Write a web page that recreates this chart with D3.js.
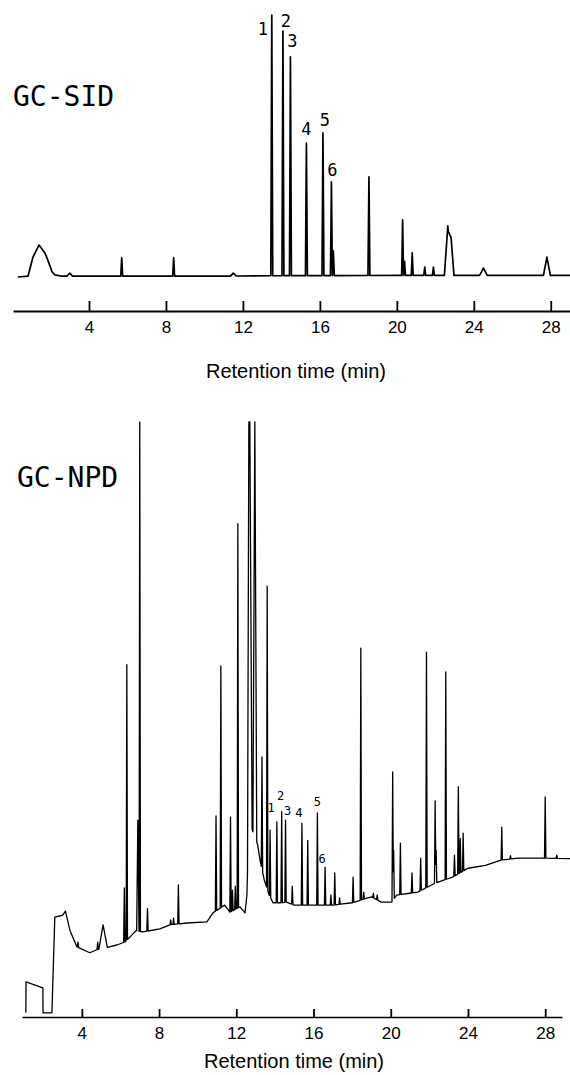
<!DOCTYPE html>
<html><head><meta charset="utf-8">
<script src="https://cdn.jsdelivr.net/npm/d3@7"></script>
<style>body{margin:0;background:#fff} svg{display:block}</style>
</head><body>
<script>
// ---------- data ----------
const tickValues = [4, 8, 12, 16, 20, 24, 28];
const axisTitle = "Retention time (min)";

const sidTitle = "GC-SID";
// baseline knots [time (min), signal]
const sidBaseline = [[0.3,0],[0.83,0.3],[1.09,7.6],[1.4,12.2],[1.71,9.2],[1.92,5.3],[2.08,1.9],[2.23,0.8],[2.6,0.3],[10,0.3],[14,0.5],[20,0.6],[29,0.6]];
// peaks [time, apex signal, half width (min, optional)]
const sidPeaks = [[3.0,1.5,0.15],[5.7,7.3],[8.4,7.3],[11.5,1.5,0.15],[13.5,100],[14.08,93.9],[14.47,84],[15.3,51.1],[16.16,55],[16.6,36.3],[16.7,10],[18.55,38.2],[20.3,21.8],[20.4,6],[20.8,9.2],[21.45,3.8],[21.9,3.8],[22.65,19.5,0.18],[22.82,15,0.15],[24.5,3.4,0.2],[27.8,7.6,0.18]];
const sidLabels = ["1","2","3","4","5","6"];
const sidLabelTimes = [13.5,14.08,14.47,15.3,16.16,16.6];

const npdTitle = "GC-NPD";
const npdBaseline = [[1.10,0.7],[1.11,5.9],[1.98,4.9],[1.99,0.7],[2.45,0.7],[2.6,16.8],[3.0,17.1],[3.15,17.8],[3.38,14.6],[3.74,11.8],[4.41,10.8],[4.78,11.3],[5.81,12.1],[6.23,12.6],[6.6,13.8],[6.8,14.5],[7.16,14.3],[8.04,14.8],[8.56,15.5],[9.44,15.8],[10.48,16.0],[10.79,17.5],[11.4,18.8],[11.67,17.6],[12.19,18.5],[12.45,17.5],[12.55,20.5],[12.65,33],[13.1,29],[13.25,26],[13.45,23],[13.7,20.5],[13.9,19.2],[14.3,19.2],[14.6,19.3],[15.0,18.8],[17.0,18.8],[18.0,19.2],[19.0,20.2],[19.5,19.3],[20.05,19.3],[20.3,20.5],[21.0,20.8],[21.4,21],[22.3,22.5],[23.2,23.5],[24.0,25],[24.9,25.5],[25.75,26.4],[26.6,26.7],[28,26.7],[29.3,26.6]];
const npdPeaks = [[3.8,12.6],[4.82,12.6],[5.1,15.5,0.22],[6.2,21.7],[6.33,59.2],[6.9,33.1,0.06],[7.0,101],[7.4,18.2],[8.6,16.3],[8.75,16.6],[9.0,22.2],[10.95,33.8],[11.2,59],[11.7,33.6],[11.8,21.3],[11.95,22],[12.08,82.9],[12.7,400,0.12],[12.96,400,0.1],[13.33,43.7],[13.6,72.4],[13.75,31.4],[14.1,32.8],[14.35,34.5],[14.55,33.1],[14.9,22],[15.4,32.6],[15.7,29.7],[16.2,34.3],[16.6,25.2],[16.9,20.5],[17.1,24.2],[17.35,20],[18.05,23.5],[18.45,62],[18.6,21],[19.1,20.8],[19.3,20.5],[20.1,41.2],[20.15,28],[20.5,29.2],[21.1,24.2],[21.55,26.7],[21.85,61.3],[22.3,36.3],[22.35,28],[22.85,58],[23.3,27.2],[23.5,38.7],[23.6,30],[23.75,30.9],[25.75,31.9],[26.2,27.1],[28.0,37],[28.6,27.2]];
const npdLabels = ["1","2","3","4","5","6"];
const npdLabelTimes = [13.75,14.35,14.55,15.4,16.2,16.6];

// ---------- helpers ----------
function buildTrace(baseline, peaks, defW){
  const bt = baseline.map(d=>d[0]);
  const base = t => {
    const i = d3.bisectRight(bt, t);
    if (i <= 0) return baseline[0][1];
    if (i >= baseline.length) return baseline[baseline.length-1][1];
    const [t0,v0] = baseline[i-1], [t1,v1] = baseline[i];
    return t1 === t0 ? v1 : v0 + (v1-v0)*(t-t0)/(t1-t0);
  };
  const P = peaks.map(([t,top,w]) => ({t, top, w: w || defW}));
  const signal = t => {
    const b = base(t); let v = b;
    for (const p of P){
      const d = Math.abs(t - p.t);
      if (d < p.w){ const tv = b + (p.top - base(p.t))*(1 - d/p.w); if (tv > v) v = tv; }
    }
    return v;
  };
  let ts = bt.slice();
  P.forEach(p => ts.push(p.t - p.w, p.t, p.t + p.w));
  ts = ts.filter(t => t >= bt[0] && t <= bt[bt.length-1]).sort((a,b)=>a-b);
  return {pts: ts.map(t => [t, signal(t)]), signal};
}

const W = 570, H = 1075;
const svg = d3.select("body").append("svg").attr("width", W).attr("height", H);

function drawPanel(cfg){
  const x = d3.scaleLinear().domain(cfg.xDomain).range(cfg.xRange);
  const y = d3.scaleLinear().domain([0,100]).range(cfg.yRange).clamp(true);
  const tr = buildTrace(cfg.baseline, cfg.peaks, cfg.defW);
  const g = svg.append("g");
  g.append("path").datum(tr.pts)
    .attr("fill","none").attr("stroke","#000").attr("stroke-width",cfg.lineW)
    .attr("stroke-linejoin","round")
    .attr("d", d3.line().x(d=>x(d[0])).y(d=>y(d[1])));
  const ax = g.append("g").attr("transform",`translate(0,${cfg.axisY})`)
    .call(d3.axisBottom(x).tickValues(tickValues).tickSizeInner(-cfg.tickLen).tickSizeOuter(0).tickPadding(cfg.tickPad));
  ax.select(".domain").attr("stroke","#000").attr("stroke-width",cfg.axisW);
  ax.selectAll(".tick line").attr("stroke","#000").attr("stroke-width",1.8);
  ax.selectAll(".tick text").attr("fill","#000").style("font-family","'Liberation Sans', Arial, sans-serif").style("font-size","17px");
  g.append("text").attr("x",cfg.titleX).attr("y",cfg.titleY).attr("text-anchor","middle")
    .style("font-family","'Liberation Sans', Arial, sans-serif").style("font-size","20px").text(axisTitle);
  g.append("text").attr("x",cfg.nameX).attr("y",cfg.nameY)
    .style("font-family","'DejaVu Sans Mono', monospace").style("font-size","28px").text(cfg.name);
  cfg.labels.forEach((lab,i) => {
    const t = cfg.labelTimes[i];
    g.append("text").attr("x", x(t) + cfg.labelOff[i][0]).attr("y", y(tr.signal(t)) + cfg.labelOff[i][1])
      .attr("text-anchor","middle")
      .style("font-family","'DejaVu Sans Mono', monospace").style("font-size",cfg.labelSize+"px").text(lab);
  });
}

drawPanel({
  xDomain:[0.05,29], xRange:[13,570], yRange:[277,15], axisY:311, tickLen:10, tickPad:10,
  baseline: sidBaseline, peaks: sidPeaks, defW:0.05, lineW:1.7, axisW:1.8,
  titleX:296, titleY:378, name:sidTitle, nameX:13, nameY:106,
  labels: sidLabels, labelTimes: sidLabelTimes, labelSize:17,
  labelOff: [[-9,20],[3,-4],[2,-10],[0,-8],[2,-7],[1,-6]]
});
drawPanel({
  xDomain:[0.9,28.87], xRange:[22,562], yRange:[1017,422], axisY:1017, tickLen:8, tickPad:10,
  baseline: npdBaseline, peaks: npdPeaks, defW:0.035, lineW:1.3, axisW:1.5,
  titleX:294, titleY:1068, name:npdTitle, nameX:17, nameY:487,
  labels: npdLabels, labelTimes: npdLabelTimes, labelSize:12,
  labelOff: [[1,-18],[-1,-12],[2,-5],[-3,-6],[0,-7],[-3,-4]]
});
</script>
</body></html>
